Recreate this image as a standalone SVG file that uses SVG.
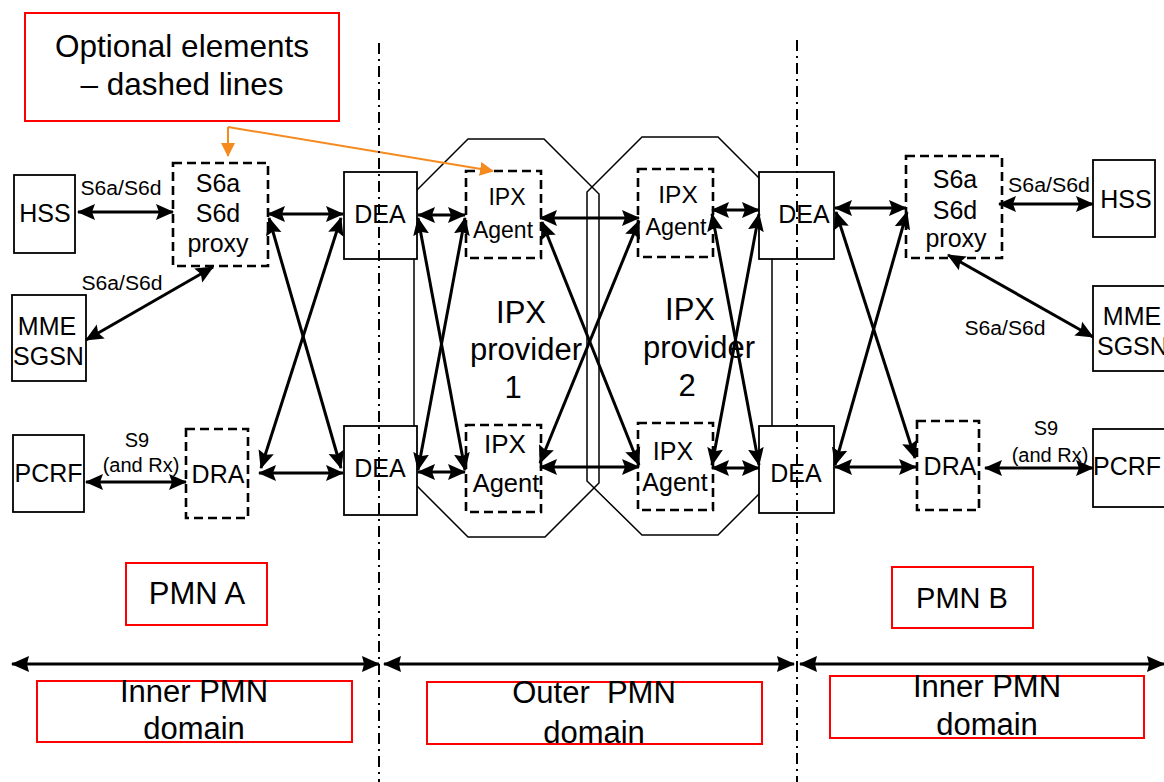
<svg xmlns="http://www.w3.org/2000/svg" width="1164" height="782" viewBox="0 0 1164 782">
<defs>
<style>
text{font-family:"Liberation Sans",Arial,sans-serif;fill:#000;text-anchor:middle}
.box{fill:#fff;stroke:#000;stroke-width:1.8}
.dbox{fill:#fff;stroke:#000;stroke-width:2.6;stroke-dasharray:9,5}
.red{fill:#fff;stroke:#f00;stroke-width:2}
.oct{fill:none;stroke:#000;stroke-width:1.5}
.con{fill:none;stroke:#000;stroke-width:3;marker-start:url(#ah);marker-end:url(#ah)}
.dom{fill:none;stroke:#000;stroke-width:3;marker-start:url(#ah2);marker-end:url(#ah2)}
.dd{fill:none;stroke:#000;stroke-width:2;stroke-dasharray:11,5,2,5}
.or{fill:none;stroke:#F58A1F;stroke-width:2}
.f25{font-size:25px}
.f20{font-size:20px}
</style>
<marker id="ah" viewBox="0 0 18 18" refX="17" refY="9" markerWidth="18" markerHeight="18" markerUnits="userSpaceOnUse" orient="auto-start-reverse">
<path d="M0,1 L18,9 L0,17 L3,9 z" fill="#000"/>
</marker>
<marker id="ah2" viewBox="0 0 18 18" refX="17" refY="9" markerWidth="18" markerHeight="18" markerUnits="userSpaceOnUse" orient="auto-start-reverse">
<path d="M0,1 L18,9 L0,17 L2,9 z" fill="#000"/>
</marker>
<marker id="oah" viewBox="0 0 14 14" refX="13" refY="7" markerWidth="14" markerHeight="14" markerUnits="userSpaceOnUse" orient="auto">
<path d="M0,0 L14,7 L0,14 z" fill="#F58A1F"/>
</marker>
</defs>
<rect width="1164" height="782" fill="#fff"/>

<!-- IPX provider clouds -->
<g id="ipx-provider-1">
<polygon class="oct" points="468,139 544,139 599,194 599,483 545,537 468,537 414,483 414,193"/>
<text x="521" y="323" style="font-size:31px">IPX</text>
<text x="526" y="360" style="font-size:31px">provider</text>
<text x="513" y="398" style="font-size:31px">1</text>
</g>
<g id="ipx-provider-2">
<polygon class="oct" points="642,137 718,137 772,191 772,481 718,535 642,535 587,481 587,192"/>
<text x="690" y="320" style="font-size:31px">IPX</text>
<text x="699" y="358" style="font-size:31px">provider</text>
<text x="687" y="396" style="font-size:31px">2</text>
</g>

<!-- Legend -->
<g id="legend">
<rect class="red" x="25" y="13" width="314" height="108"/>
<text x="182" y="57" style="font-size:31.5px">Optional elements</text>
<text x="182" y="95" style="font-size:31.5px">– dashed lines</text>
</g>

<!-- PMN A nodes -->
<g id="hss-a"><rect class="box" x="14" y="175" width="61" height="78"/><text class="f25" x="45" y="222">HSS</text></g>
<g id="mme-a"><rect class="box" x="12" y="295" width="74" height="86"/><text class="f25" x="47" y="335">MME</text><text class="f25" x="48.5" y="365">SGSN</text></g>
<g id="pcrf-a"><rect class="box" x="13" y="435" width="71" height="77"/><text class="f25" x="48.5" y="482">PCRF</text></g>
<g id="proxy-a"><rect class="dbox" x="173" y="163" width="95" height="103"/><text class="f25" x="218" y="192">S6a</text><text class="f25" x="218" y="222">S6d</text><text class="f25" x="218" y="252">proxy</text></g>
<g id="dra-a"><rect class="dbox" x="186" y="429" width="62" height="89"/><text class="f25" x="218" y="483">DRA</text></g>
<g id="dea-a-top"><rect class="box" x="344" y="172" width="73" height="87"/><text class="f25" x="380" y="223">DEA</text></g>
<g id="dea-a-bottom"><rect class="box" x="344" y="426" width="73" height="89"/><text class="f25" x="380" y="477">DEA</text></g>

<!-- IPX agents -->
<g id="ipx-agent-1-top"><rect class="dbox" x="466" y="171" width="75" height="87"/><text x="507" y="205" style="font-size:23px">IPX</text><text x="503" y="238" style="font-size:23px">Agent</text></g>
<g id="ipx-agent-1-bottom"><rect class="dbox" x="466" y="425" width="75" height="87"/><text x="505" y="453" style="font-size:26px">IPX</text><text x="506" y="492" style="font-size:25.5px">Agent</text></g>
<g id="ipx-agent-2-top"><rect class="dbox" x="638" y="169" width="75" height="88"/><text x="678" y="203" style="font-size:24.5px">IPX</text><text x="676" y="235" style="font-size:23.4px">Agent</text></g>
<g id="ipx-agent-2-bottom"><rect class="dbox" x="638" y="423" width="75" height="87"/><text x="673" y="460" style="font-size:25px">IPX</text><text x="675" y="491" style="font-size:25px">Agent</text></g>

<!-- PMN B nodes -->
<g id="dea-b-top"><rect class="box" x="759" y="172" width="75" height="87"/><text class="f25" x="804" y="223">DEA</text></g>
<g id="dea-b-bottom"><rect class="box" x="759" y="426" width="75" height="87"/><text class="f25" x="796" y="482">DEA</text></g>
<g id="proxy-b"><rect class="dbox" x="906" y="156" width="96" height="102"/><text class="f25" x="955" y="188">S6a</text><text class="f25" x="955" y="219">S6d</text><text class="f25" x="956" y="247">proxy</text></g>
<g id="dra-b"><rect class="dbox" x="917" y="421" width="62" height="89"/><text class="f25" x="950" y="475">DRA</text></g>
<g id="hss-b"><rect class="box" x="1093" y="160" width="62" height="77"/><text class="f25" x="1126" y="208">HSS</text></g>
<g id="mme-b"><rect class="box" x="1093" y="286" width="85" height="85"/><text class="f25" x="1132" y="325">MME</text><text class="f25" x="1097" y="355" style="text-anchor:start">SGSN</text></g>
<g id="pcrf-b"><rect class="box" x="1093" y="429" width="85" height="78"/><text class="f25" x="1093" y="475" style="text-anchor:start">PCRF</text></g>

<!-- Domain labels -->
<g id="pmn-a"><rect class="red" x="126" y="563" width="141" height="62"/><text x="197" y="604" style="font-size:31px">PMN A</text></g>
<g id="pmn-b"><rect class="red" x="892" y="567" width="141" height="61"/><text x="962" y="608" style="font-size:29px">PMN B</text></g>
<g id="inner-a"><rect class="red" x="37" y="681" width="315" height="61"/><text x="194" y="702" style="font-size:31px">Inner PMN</text><text x="194" y="739" style="font-size:31px">domain</text></g>
<g id="outer"><rect class="red" x="427" y="682" width="335" height="62"/><text x="594" y="703" style="font-size:31px;white-space:pre" xml:space="preserve">Outer  PMN</text><text x="594" y="743" style="font-size:31px">domain</text></g>
<g id="inner-b"><rect class="red" x="830" y="676" width="314" height="62"/><text x="987" y="697" style="font-size:31px">Inner PMN</text><text x="987" y="735" style="font-size:31px">domain</text></g>

<!-- Connectors -->
<g id="connectors">
<line class="con" x1="78" y1="212" x2="173" y2="212"/>
<line class="con" x1="86" y1="340" x2="213" y2="267"/>
<line class="con" x1="86" y1="482" x2="186" y2="482"/>
<line class="con" x1="268" y1="214" x2="343" y2="214"/>
<line class="con" x1="269" y1="218" x2="341" y2="468"/>
<line class="con" x1="341" y1="218" x2="261" y2="468"/>
<line class="con" x1="259" y1="473" x2="343" y2="473"/>

<line class="con" x1="418" y1="215" x2="465" y2="215"/>
<line class="con" x1="418" y1="218" x2="465" y2="470"/>
<line class="con" x1="465" y1="218" x2="418" y2="470"/>
<line class="con" x1="418" y1="472" x2="465" y2="472"/>

<line class="con" x1="540" y1="218" x2="639" y2="218"/>
<line class="con" x1="542" y1="222" x2="639" y2="465"/>
<line class="con" x1="639" y1="221" x2="540" y2="463"/>
<line class="con" x1="540" y1="467" x2="639" y2="467"/>

<line class="con" x1="712" y1="210" x2="759" y2="210"/>
<line class="con" x1="712" y1="214" x2="759" y2="465"/>
<line class="con" x1="759" y1="214" x2="712" y2="465"/>
<line class="con" x1="712" y1="468" x2="759" y2="468"/>

<line class="con" x1="835" y1="208" x2="906" y2="208"/>
<line class="con" x1="836" y1="212" x2="915" y2="458"/>
<line class="con" x1="907" y1="212" x2="835" y2="465"/>
<line class="con" x1="835" y1="467" x2="916" y2="467"/>
<line class="con" x1="999" y1="204" x2="1093" y2="204"/>
<line class="con" x1="948" y1="255" x2="1093" y2="337"/>
<line class="con" x1="985" y1="468" x2="1093" y2="468"/>

<line class="dom" x1="12" y1="664" x2="379" y2="664"/>
<line class="dom" x1="384" y1="664" x2="794" y2="664"/>
<line class="dom" x1="800" y1="664" x2="1164" y2="664"/>

<polyline class="or" points="228,127 228,156" marker-end="url(#oah)"/>
<polyline class="or" points="228,127 493,171" marker-end="url(#oah)"/>
</g>

<!-- Interface labels -->
<g id="labels">
<text class="f20" x="121" y="195" textLength="81" lengthAdjust="spacingAndGlyphs">S6a/S6d</text>
<text class="f20" x="122" y="290" textLength="81" lengthAdjust="spacingAndGlyphs">S6a/S6d</text>
<text class="f20" x="137" y="447">S9</text>
<text class="f20" x="141" y="472">(and Rx)</text>
<text class="f20" x="1049" y="192" textLength="82" lengthAdjust="spacingAndGlyphs">S6a/S6d</text>
<text class="f20" x="1005" y="335" textLength="81" lengthAdjust="spacingAndGlyphs">S6a/S6d</text>
<text class="f20" x="1046" y="435">S9</text>
<text class="f20" x="1050" y="462">(and Rx)</text>
</g>

<!-- Domain boundaries -->
<g id="boundaries">
<line class="dd" x1="379" y1="43" x2="379" y2="782"/>
<line class="dd" x1="797" y1="40" x2="797" y2="782"/>
</g>
</svg>
